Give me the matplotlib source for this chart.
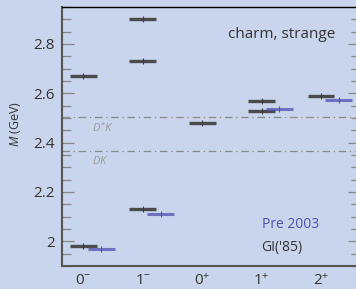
import numpy as np
import matplotlib
matplotlib.use("Agg")
import matplotlib.pyplot as plt
from matplotlib.ticker import MultipleLocator

plt.rcParams['font.family'] = ['Open Sans', 'DejaVu Sans']
plt.rcParams['mathtext.fontset'] = 'custom'
plt.rcParams['mathtext.rm'] = 'Open Sans'
plt.rcParams['mathtext.it'] = 'Open Sans:italic'

# quantum numbers J^P
states = ['$0^{-}$', '$1^{-}$', '$0^{+}$', '$1^{+}$', '$2^{+}$']

# GI('85) predictions per J^P (GeV)
gi_x = [0, 0, 1, 1, 1, 2, 3, 3, 4]
gi_m = [1.98, 2.67, 2.13, 2.73, 2.90, 2.48, 2.53, 2.57, 2.59]

# states observed before 2003 (GeV)
pre_x = [0, 1, 3, 4]
pre_m = [1.968, 2.112, 2.535, 2.572]

# thresholds
thr_names = ['$D^{*}K$', '$DK$']
thr_m = [2.503, 2.365]

bg = '#c9d5ec'
c_gi = '#3c3c3c'
c_pre = '#5050b0'

fig = plt.figure(figsize=(3.56, 2.89), dpi=100)
fig.patch.set_facecolor(bg)
ax = fig.add_axes([0.174, 0.08, 0.837, 0.896])
ax.set_facecolor(bg)

w = 0.45
off = 0.3
for x, m in zip(gi_x, gi_m):
    ax.hlines(m, x - w / 2, x + w / 2, color=c_gi, lw=2.4, alpha=0.9, zorder=3)
    ax.plot(x, m, marker='|', ms=5, mew=0.8, color=c_gi, zorder=4)
for x, m in zip(pre_x, pre_m):
    ax.hlines(m, x + off - w / 2, x + off + w / 2, color=c_pre, lw=2.2, alpha=0.75, zorder=3)
    ax.plot(x + off, m, marker='|', ms=5, mew=0.8, color=c_pre, zorder=4)

for name, m in zip(thr_names, thr_m):
    ax.axhline(m, color='#8a8a8a', lw=0.9, ls=(0, (6, 3, 1, 3)), zorder=2)
    ax.text(0.15, m - 0.015, name, color='#9a9a9a', fontsize=8, va='top', ha='left')

ax.set_xlim(-0.36, 4.655)
ax.set_ylim(1.9, 2.95)
ax.set_xticks(range(len(states)))
ax.set_xticklabels(states, fontsize=11, color='#333333')
ax.tick_params(axis='x', length=0, pad=5)
ax.yaxis.set_major_locator(MultipleLocator(0.2))
ax.yaxis.set_minor_locator(MultipleLocator(0.05))
ax.set_yticks([2.0, 2.2, 2.4, 2.6, 2.8])
ax.set_yticklabels(['2', '2.2', '2.4', '2.6', '2.8'])
ax.tick_params(axis='y', which='both', direction='in', left=True, right=True,
               color='#888888', width=0.9, labelsize=11, labelcolor='#333333', pad=5)
ax.tick_params(axis='y', which='major', length=8.6)
ax.tick_params(axis='y', which='minor', length=6.3)

ax.spines['top'].set_color('black')
ax.spines['top'].set_linewidth(1)
ax.spines['right'].set_visible(False)
ax.spines['left'].set_color('#555555')
ax.spines['left'].set_linewidth(1.5)
ax.spines['bottom'].set_color('#555555')
ax.spines['bottom'].set_linewidth(1.5)

ax.set_ylabel('$M$ (GeV)', fontsize=9, color='#333333', labelpad=4)
ax.yaxis.set_label_coords(-0.13, 0.55)

ax.text(4.25, 2.84, 'charm, strange', fontsize=11, color='#333333', ha='right', va='center')
ax.text(3.0, 2.069, 'Pre 2003', fontsize=10, color=c_pre, ha='left', va='center')
ax.text(3.0, 1.976, "GI('85)", fontsize=10, color='#333333', ha='left', va='center')

fig.savefig('out.png', dpi=100, facecolor=bg)
